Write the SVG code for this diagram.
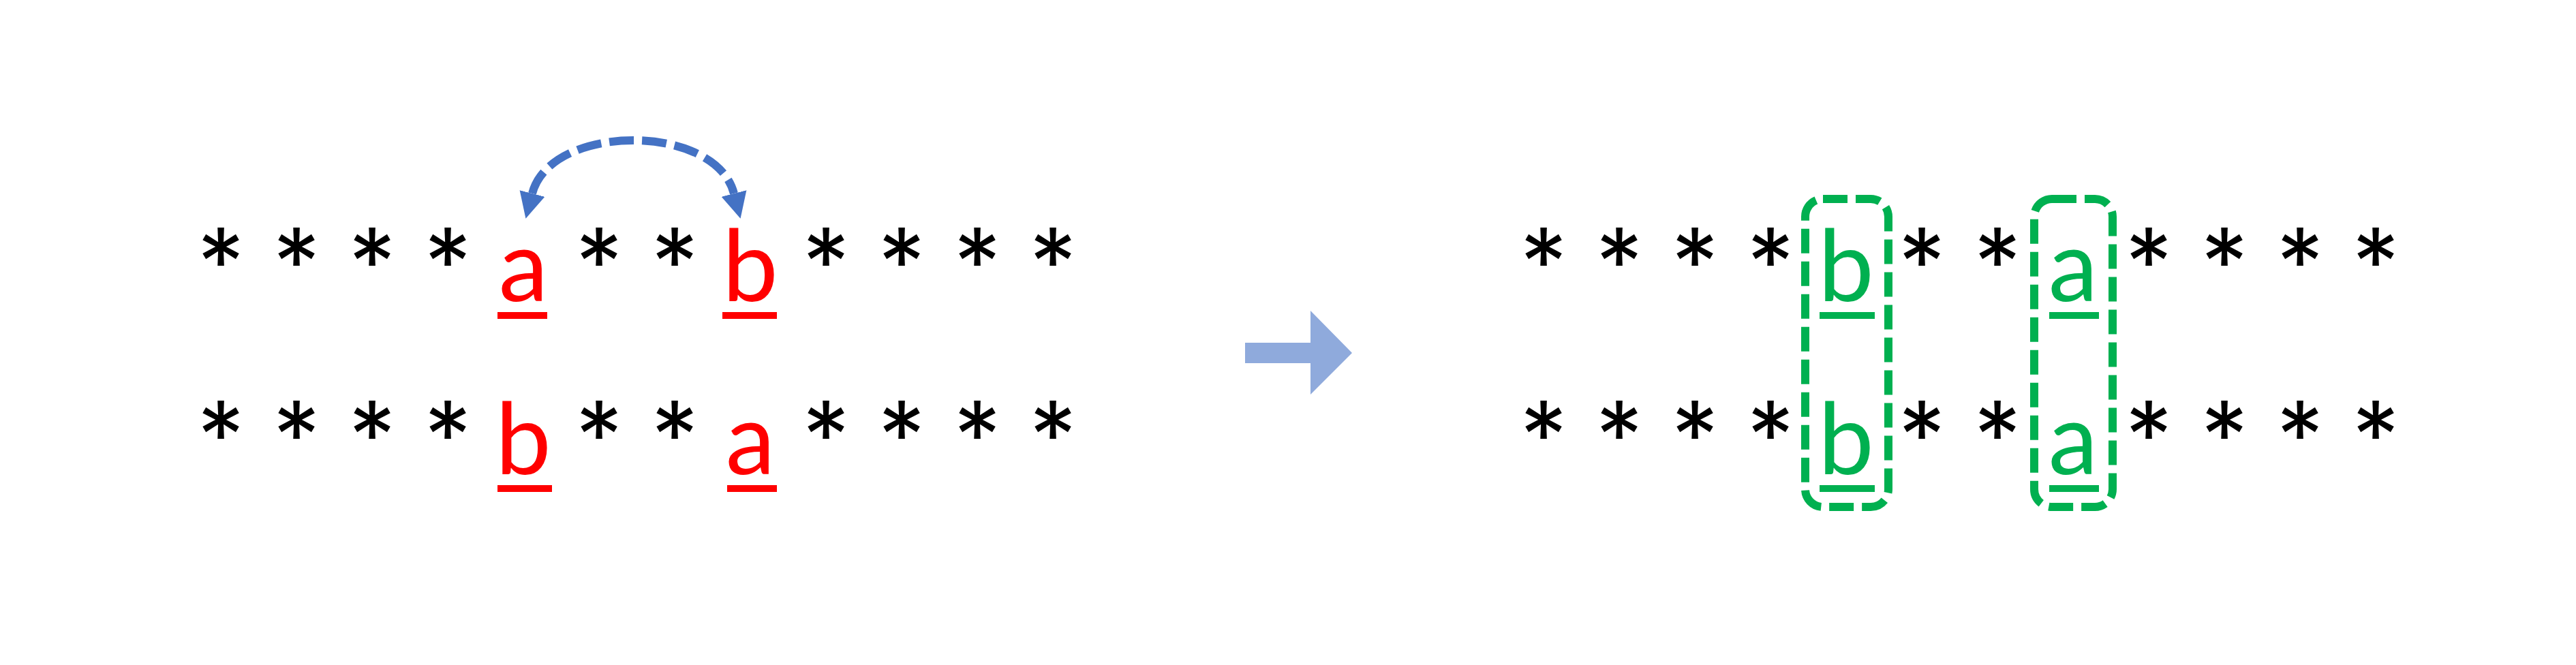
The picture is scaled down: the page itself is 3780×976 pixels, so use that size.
<svg xmlns="http://www.w3.org/2000/svg" width="3780" height="976" viewBox="0 0 3780 976">
  <defs>
    <style>
      .stars { font-family: Inter, "DejaVu Sans", sans-serif; font-size: 137px; text-anchor: middle; fill: #000000; }
      .letter { font-family: Lato, "Open Sans", "Liberation Sans", sans-serif; font-size: 146px; text-anchor: middle; }
      .red { fill: #FF0000; }
      .green { fill: #00B050; }
      .swap { fill: none; stroke: #4472C4; stroke-width: 12; stroke-dasharray: 36 12; }
      .box { fill: none; stroke: #00B050; stroke-width: 12; stroke-dasharray: 36 12; }
      .block { fill: #8FAADC; }
    </style>
    <marker id="head" markerUnits="userSpaceOnUse" markerWidth="40" markerHeight="40" viewBox="0 -20 40 40" refX="0" refY="0" orient="auto-start-reverse">
      <path d="M0,-19 L38,0 L0,19 Z" fill="#4472C4"/>
    </marker>
  </defs>
  <rect width="3780" height="976" fill="#FFFFFF"/>

  <g id="left-row-1">
    <text class="stars" y="434" x="324 435 546 657">****</text>
    <text class="letter red" x="768" y="442">a</text>
    <text class="stars" y="434" x="879 990">**</text>
    <text class="letter red" x="1101" y="442">b</text>
    <text class="stars" y="434" x="1212 1323 1434 1545">****</text>
    <rect class="red" x="730" y="458" width="73" height="10"/>
    <rect class="red" x="1060" y="458" width="80" height="10"/>
  </g>

  <g id="left-row-2">
    <text class="stars" y="688" x="324 435 546 657">****</text>
    <text class="letter red" x="768" y="696">b</text>
    <text class="stars" y="688" x="879 990">**</text>
    <text class="letter red" x="1101" y="696">a</text>
    <text class="stars" y="688" x="1212 1323 1434 1545">****</text>
    <rect class="red" x="730" y="712" width="80" height="10"/>
    <rect class="red" x="1067" y="712" width="73" height="10"/>
  </g>

  <g id="transform-arrow">
    <polygon class="block" points="1827,503 1923,503 1923,456 1984,518 1923,579 1923,533 1827,533"/>
  </g>

  <g id="right-row-1">
    <text class="stars" y="434" x="2265 2376 2487 2598">****</text>
    <text class="letter green" x="2709" y="442">b</text>
    <text class="stars" y="434" x="2820 2931">**</text>
    <text class="letter green" x="3042" y="442">a</text>
    <text class="stars" y="434" x="3153 3264 3375 3486">****</text>
    <rect class="green" x="2670" y="458" width="81" height="10"/>
    <rect class="green" x="3007" y="458" width="73" height="10"/>
  </g>

  <g id="right-row-2">
    <text class="stars" y="688" x="2265 2376 2487 2598">****</text>
    <text class="letter green" x="2709" y="696">b</text>
    <text class="stars" y="688" x="2820 2931">**</text>
    <text class="letter green" x="3042" y="696">a</text>
    <text class="stars" y="688" x="3153 3264 3375 3486">****</text>
    <rect class="green" x="2670" y="712" width="81" height="10"/>
    <rect class="green" x="3007" y="712" width="73" height="10"/>
  </g>

  <g id="box-b">
    <rect class="box" x="2649" y="292" width="122" height="452" rx="26" ry="26"/>
  </g>
  <g id="box-a">
    <rect class="box" x="2985" y="292" width="115" height="452" rx="26" ry="26"/>
  </g>

  <g id="connectors">
    <path class="swap" d="M781,284 C808,180 1050,180 1077,284" marker-start="url(#head)" marker-end="url(#head)"/>
  </g>
</svg>
